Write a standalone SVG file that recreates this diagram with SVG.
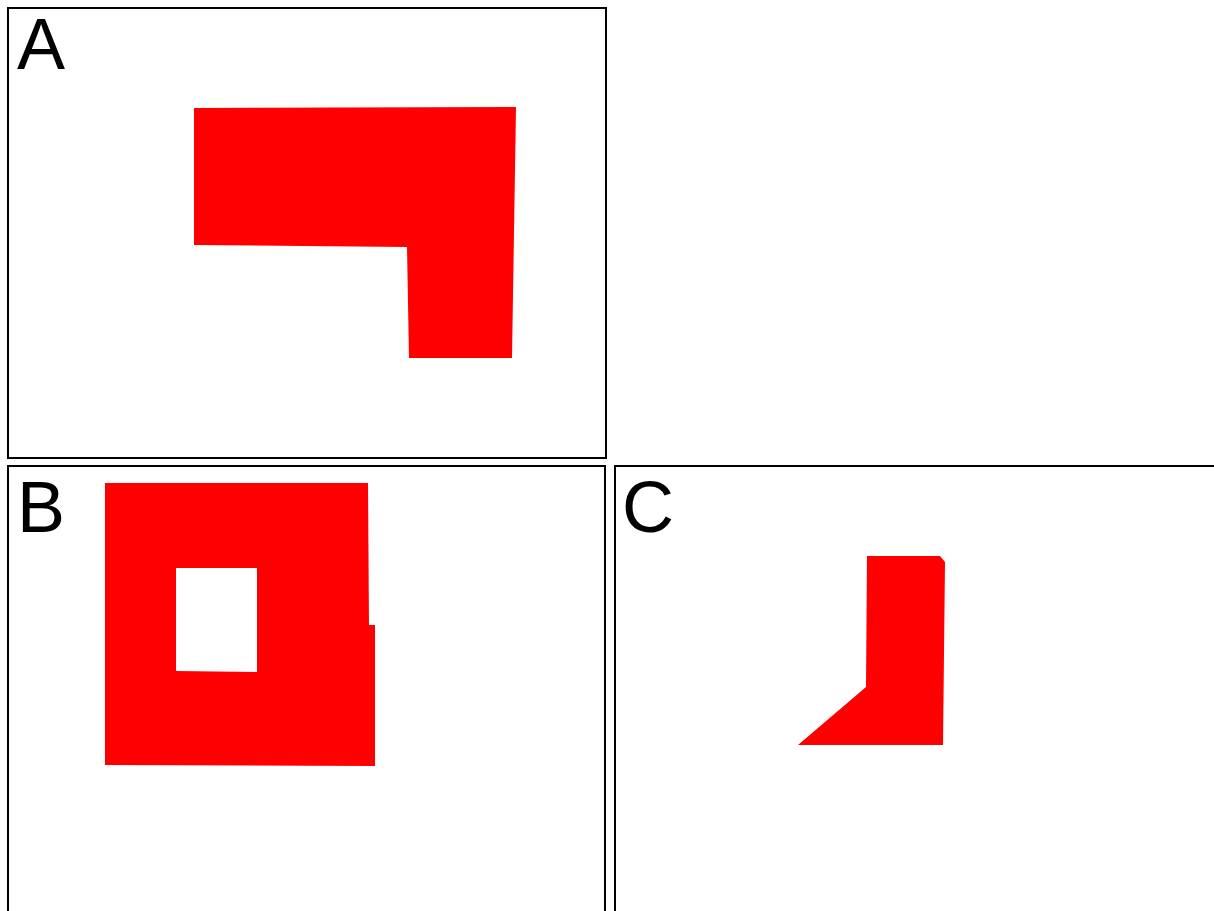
<svg xmlns="http://www.w3.org/2000/svg" width="1214" height="911" viewBox="0 0 1214 911">
<style>
.panel{fill:#fff;stroke:#000;stroke-width:2}
.shape{fill:#f00}
.lbl{font-family:"Liberation Sans",Arial,sans-serif;font-size:72px;fill:#000}
</style>
<rect width="1214" height="911" fill="#fff"/>
<g id="panelA">
<rect class="panel" x="8" y="8" width="598" height="450"/>
<text class="lbl" x="17" y="69">A</text>
<polygon class="shape" points="194,108 516,107 512,358 409,358 407,247 194,245"/>
</g>
<g id="panelB">
<rect class="panel" x="8" y="466" width="597" height="460"/>
<text class="lbl" x="17" y="532">B</text>
<path class="shape" fill-rule="evenodd" d="M105,483 L368,483 L369,625 L375,625 L375,766 L105,765 Z M176,568 L257,568 L257,672 L176,671 Z"/>
</g>
<g id="panelC">
<rect class="panel" x="615" y="466" width="610" height="460" stroke="#222"/>
<text class="lbl" x="622" y="532">C</text>
<polygon class="shape" points="867,556 940,556 945,562 943,745 798,745 866,687"/>
</g>
</svg>
